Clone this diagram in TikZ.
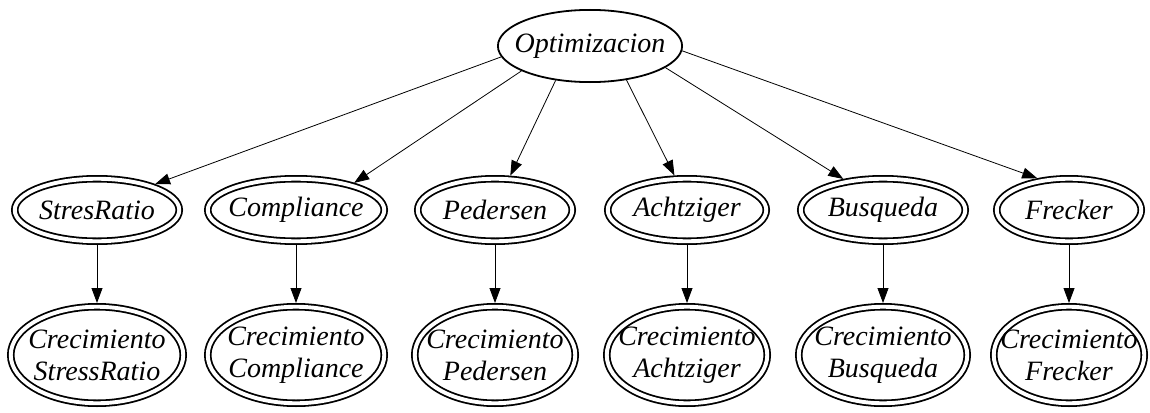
\documentclass[tikz,border=0pt]{standalone}
\usepackage{fontspec}
\setmainfont{Liberation Serif}
\usetikzlibrary{arrows.meta,shapes.geometric}
\tikzset{root/.style={ellipse,draw,line width=1.8pt,outer sep=.9pt,inner xsep=-60pt,inner ysep=0pt},
  meth/.style={ellipse,draw,line width=1.8pt,double,double distance=3.9pt,outer sep=3.75pt,
    inner xsep=-60pt,inner ysep=0pt,minimum height=62.5pt},
  growth/.style={meth,align=center,minimum height=96.5pt},
  link/.style={line width=.8pt,-{Triangle[length=15pt,width=11pt]}}}
\begin{document}
\begin{tikzpicture}[x=1pt,y=-1pt,font=\fontsize{28}{32}\selectfont\itshape]
\useasboundingbox (0,0) rectangle (1150,412);
\node[root,minimum width=184.2pt,minimum height=72.2pt] (opt) at (590,46) {Optimizacion};
\node[meth,minimum width=164.5pt] (sr) at (97,210) {StresRatio};
\node[meth,minimum width=176.5pt] (comp) at (296,210) {Compliance};
\node[meth,minimum width=154.5pt] (ped) at (495,210) {Pedersen};
\node[meth,minimum width=158.5pt] (ach) at (687,210) {Achtziger};
\node[meth,minimum width=164.5pt] (bus) at (883,210) {Busqueda};
\node[meth,minimum width=144.5pt] (fre) at (1069,210) {Frecker};
\node[growth,minimum width=172.5pt] (csr) at (97,355) {Crecimiento\\StressRatio};
\node[growth,minimum width=176.5pt] (ccomp) at (296,355) {Crecimiento\\Compliance};
\node[growth,minimum width=160.5pt] (cped) at (495,355) {Crecimiento\\Pedersen};
\node[growth,minimum width=160.5pt] (cach) at (687,355) {Crecimiento\\Achtziger};
\node[growth,minimum width=168.5pt] (cbus) at (883,355) {Crecimiento\\Busqueda};
\node[growth,minimum width=150.5pt] (cfre) at (1069,355) {Crecimiento\\Frecker};
\draw[link] (opt.187)--(sr.24);
\draw[link] (opt.200)--(comp.25);
\draw[link] (opt.225)--(ped.66);
\draw[link] (opt.317)--(ach.110);
\draw[link] (opt.344)--(bus.142);
\draw[link] (opt.357)--(fre.135);
\draw[link] (sr)--(csr);
\draw[link] (comp)--(ccomp);
\draw[link] (ped)--(cped);
\draw[link] (ach)--(cach);
\draw[link] (bus)--(cbus);
\draw[link] (fre)--(cfre);
\end{tikzpicture}
\end{document}
